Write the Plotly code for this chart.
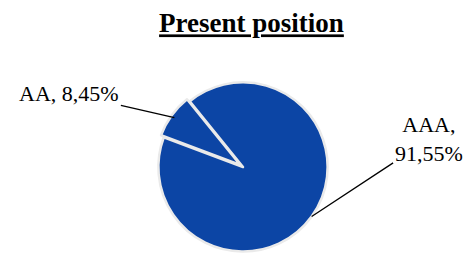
import math
import plotly.graph_objects as go

# ---- data ----
labels = ["AAA", "AA"]
values = [91.55, 8.45]
title_text = "Present position"

# ---- style / layout ----
W, H = 464, 255
BLUE = "#0C45A5"
pulls = [0, 0.04]
rotation = 321          # start angle of first slice, clockwise from 12 o'clock
cx, cy, half = 243, 167, 88   # pie centre (px from top-left) and half domain size
FONT = "Liberation Serif, Times New Roman, serif"

dom_x = [(cx - half) / W, (cx + half) / W]
dom_y = [max((H - cy - half) / H, 0), (H - cy + half) / H]
r = half / (1 + max(pulls))

fig = go.Figure(go.Pie(
    labels=labels, values=values, sort=False, direction="clockwise",
    rotation=rotation, pull=pulls, textinfo="none", hoverinfo="label+percent",
    marker=dict(colors=[BLUE] * len(values), line=dict(color="#EAEAEA", width=2.5)),
    domain=dict(x=dom_x, y=dom_y), showlegend=False,
))

# label offsets (text position relative to arrow tip, px)
offsets = {"AAA": (117, -77), "AA": (-105, -24)}
line_breaks = {"AAA": "<br>", "AA": " "}

total = sum(values)
start = rotation
annots = []
for lab, v in zip(labels, values):
    span = 360 * v / total
    mid = math.radians(start + span / 2)
    start += span
    tx = cx + r * math.sin(mid)
    ty = cy - r * math.cos(mid)
    pct = f"{100 * v / total:.2f}%".replace(".", ",")
    ax, ay = offsets[lab]
    annots.append(dict(
        x=tx / W, y=(H - ty) / H, xref="paper", yref="paper",
        text=f"{lab},{line_breaks[lab]}{pct}", showarrow=True,
        arrowhead=0, arrowwidth=1.3, arrowcolor="black", ax=ax, ay=ay,
        font=dict(family=FONT, size=22, color="black"), align="center",
    ))

fig.update_layout(
    width=W, height=H, margin=dict(l=0, r=0, t=0, b=0),
    paper_bgcolor="white", plot_bgcolor="white",
    title=dict(text=f"<b><u>{title_text}</u></b>", x=0.542, xanchor="center",
               y=0.91, yanchor="middle",
               font=dict(family=FONT, size=27, color="black")),
    annotations=annots,
)

fig.write_html("out.html", config={"displayModeBar": False},
               post_script="document.body.style.margin='0';")
